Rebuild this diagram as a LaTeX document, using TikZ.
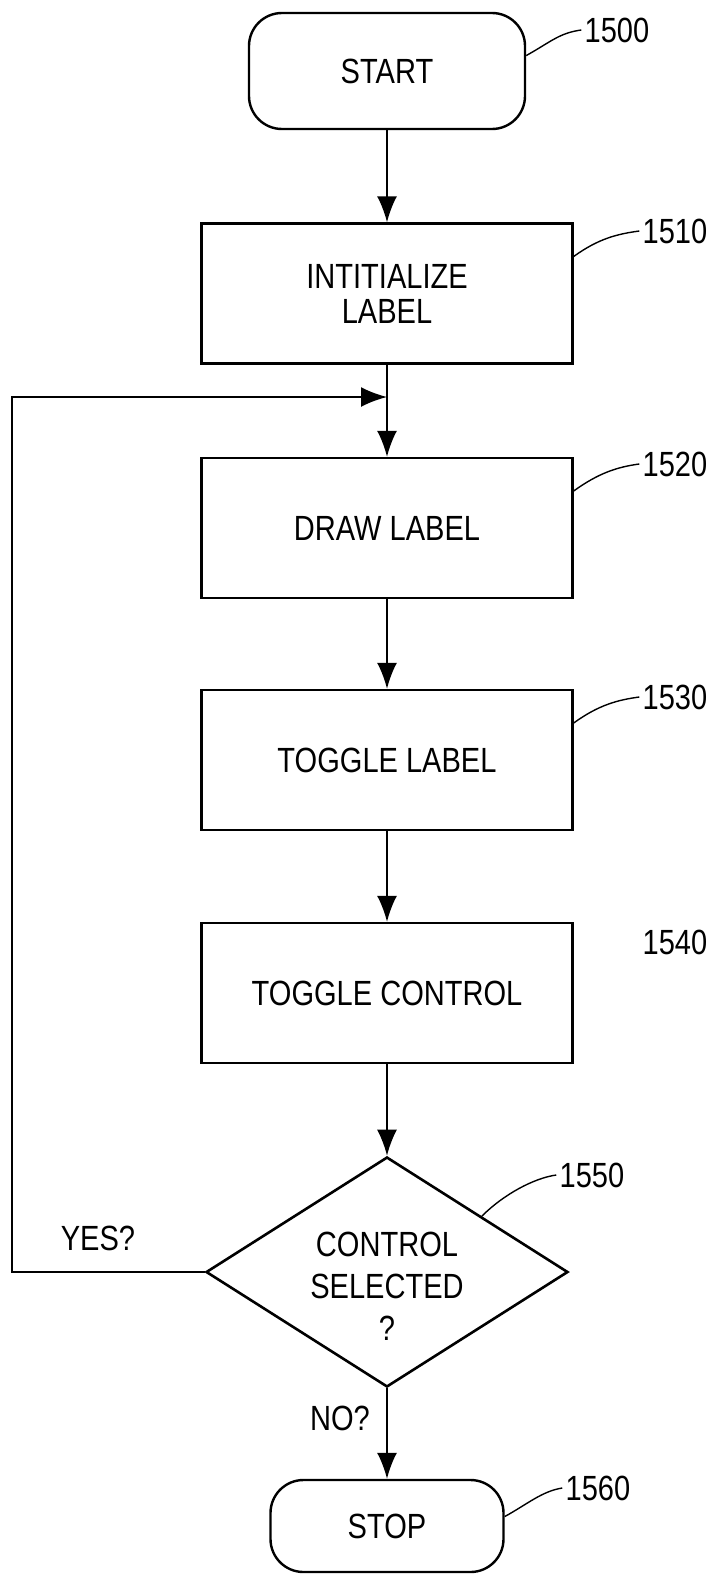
\documentclass[tikz,border=0pt]{standalone}
\usepackage{fontspec}
\setmainfont{Liberation Sans}[FakeStretch=0.83]
\usetikzlibrary{positioning}
\usetikzlibrary{calc}
\usetikzlibrary{shapes.geometric}
\usetikzlibrary{arrows.meta}

\begin{document}
\begin{tikzpicture}
            [
                x=0.5pt, y=-0.5pt,
                every node/.style={font=\fontsize{17.5pt}{17.5pt}\selectfont},
                process/.style={rectangle, draw, line width=1.2pt, minimum width=185.5pt, minimum height=70pt, align=center},
                terminal/.style={rectangle, draw, line width=1.2pt, rounded corners=16.5pt},
                decision/.style={diamond, draw, line width=1.3pt, minimum width=181pt, minimum height=115pt, inner sep=0pt, font=\fontsize{17.5pt}{21pt}\selectfont},
                flow/.style={-{Latex[length=13pt, width=10pt]}, line width=1pt},
                ref/.style={inner sep=1.5pt},
                leader/.style={line width=0.7pt}
            ]
            \useasboundingbox (0,0) rectangle (715,1574);
            %nodes
            \node[terminal, minimum width=138pt, minimum height=58pt] at (387,71)   (start)     {START};
            \node[process] at (387,293.5)                                           (init)      {INTITIALIZE\\LABEL};
            \node[process] at (387,528)                                             (drawlbl)   {DRAW LABEL};
            \node[process] at (387,760)                                             (togglelbl) {TOGGLE LABEL};
            \node[process] at (387,993)                                             (togglectl) {TOGGLE CONTROL};
            \node[decision] at (387,1272)                                           (ctrlsel)
                {\raisebox{-13.5pt}[0pt][0pt]{\begin{tabular}{@{}c@{}}CONTROL\\SELECTED\\?\end{tabular}}};
            \node[terminal, minimum width=116.5pt, minimum height=46pt] at (387,1526) (stop)    {STOP};
            \node at (98,1238)                                                      (yes)       {YES?};
            \node at (340,1418)                                                     (no)        {NO?};
            %reference numbers
            \node[ref] at (617,30)      (ref1500) {1500};
            \node[ref] at (675,231)     (ref1510) {1510};
            \node[ref] at (675,464)     (ref1520) {1520};
            \node[ref] at (675,697)     (ref1530) {1530};
            \node[ref] at (675,942)     (ref1540) {1540};
            \node[ref] at (592,1175)    (ref1550) {1550};
            \node[ref] at (598,1488)    (ref1560) {1560};
            %loop coordinates
            \coordinate (looptop) at (12,397);
            \coordinate (merge)   at (init.south |- looptop);
            %arrows
            \draw[flow] (start.south) -- (init.north);
            \draw[flow] (init.south) -- (drawlbl.north);
            \draw[flow] (drawlbl.south) -- (togglelbl.north);
            \draw[flow] (togglelbl.south) -- (togglectl.north);
            \draw[flow] (togglectl.south) -- (ctrlsel.north);
            \draw[flow] (ctrlsel.south) -- (stop.north);
            \draw[flow] (ctrlsel.west) -| (looptop) -- (merge);
            %leaders
            \draw[leader] ($(start.north east)!0.37!(start.south east)$) .. controls +(25,-14) and +(-22,3) .. (ref1500.west);
            \draw[leader] ($(init.north east)!0.24!(init.south east)$) .. controls +(25,-18) and +(-22,3) .. (ref1510.west);
            \draw[leader] ($(drawlbl.north east)!0.24!(drawlbl.south east)$) .. controls +(25,-18) and +(-22,3) .. (ref1520.west);
            \draw[leader] ($(togglelbl.north east)!0.24!(togglelbl.south east)$) .. controls +(25,-18) and +(-22,3) .. (ref1530.west);
            \draw[leader] ($(ctrlsel.north)!0.52!(ctrlsel.east)$) .. controls +(22,-22) and +(-22,3) .. (ref1550.west);
            \draw[leader] ($(stop.north east)!0.4!(stop.south east)$) .. controls +(22,-12) and +(-20,3) .. (ref1560.west);
        \end{tikzpicture}
\end{document}
